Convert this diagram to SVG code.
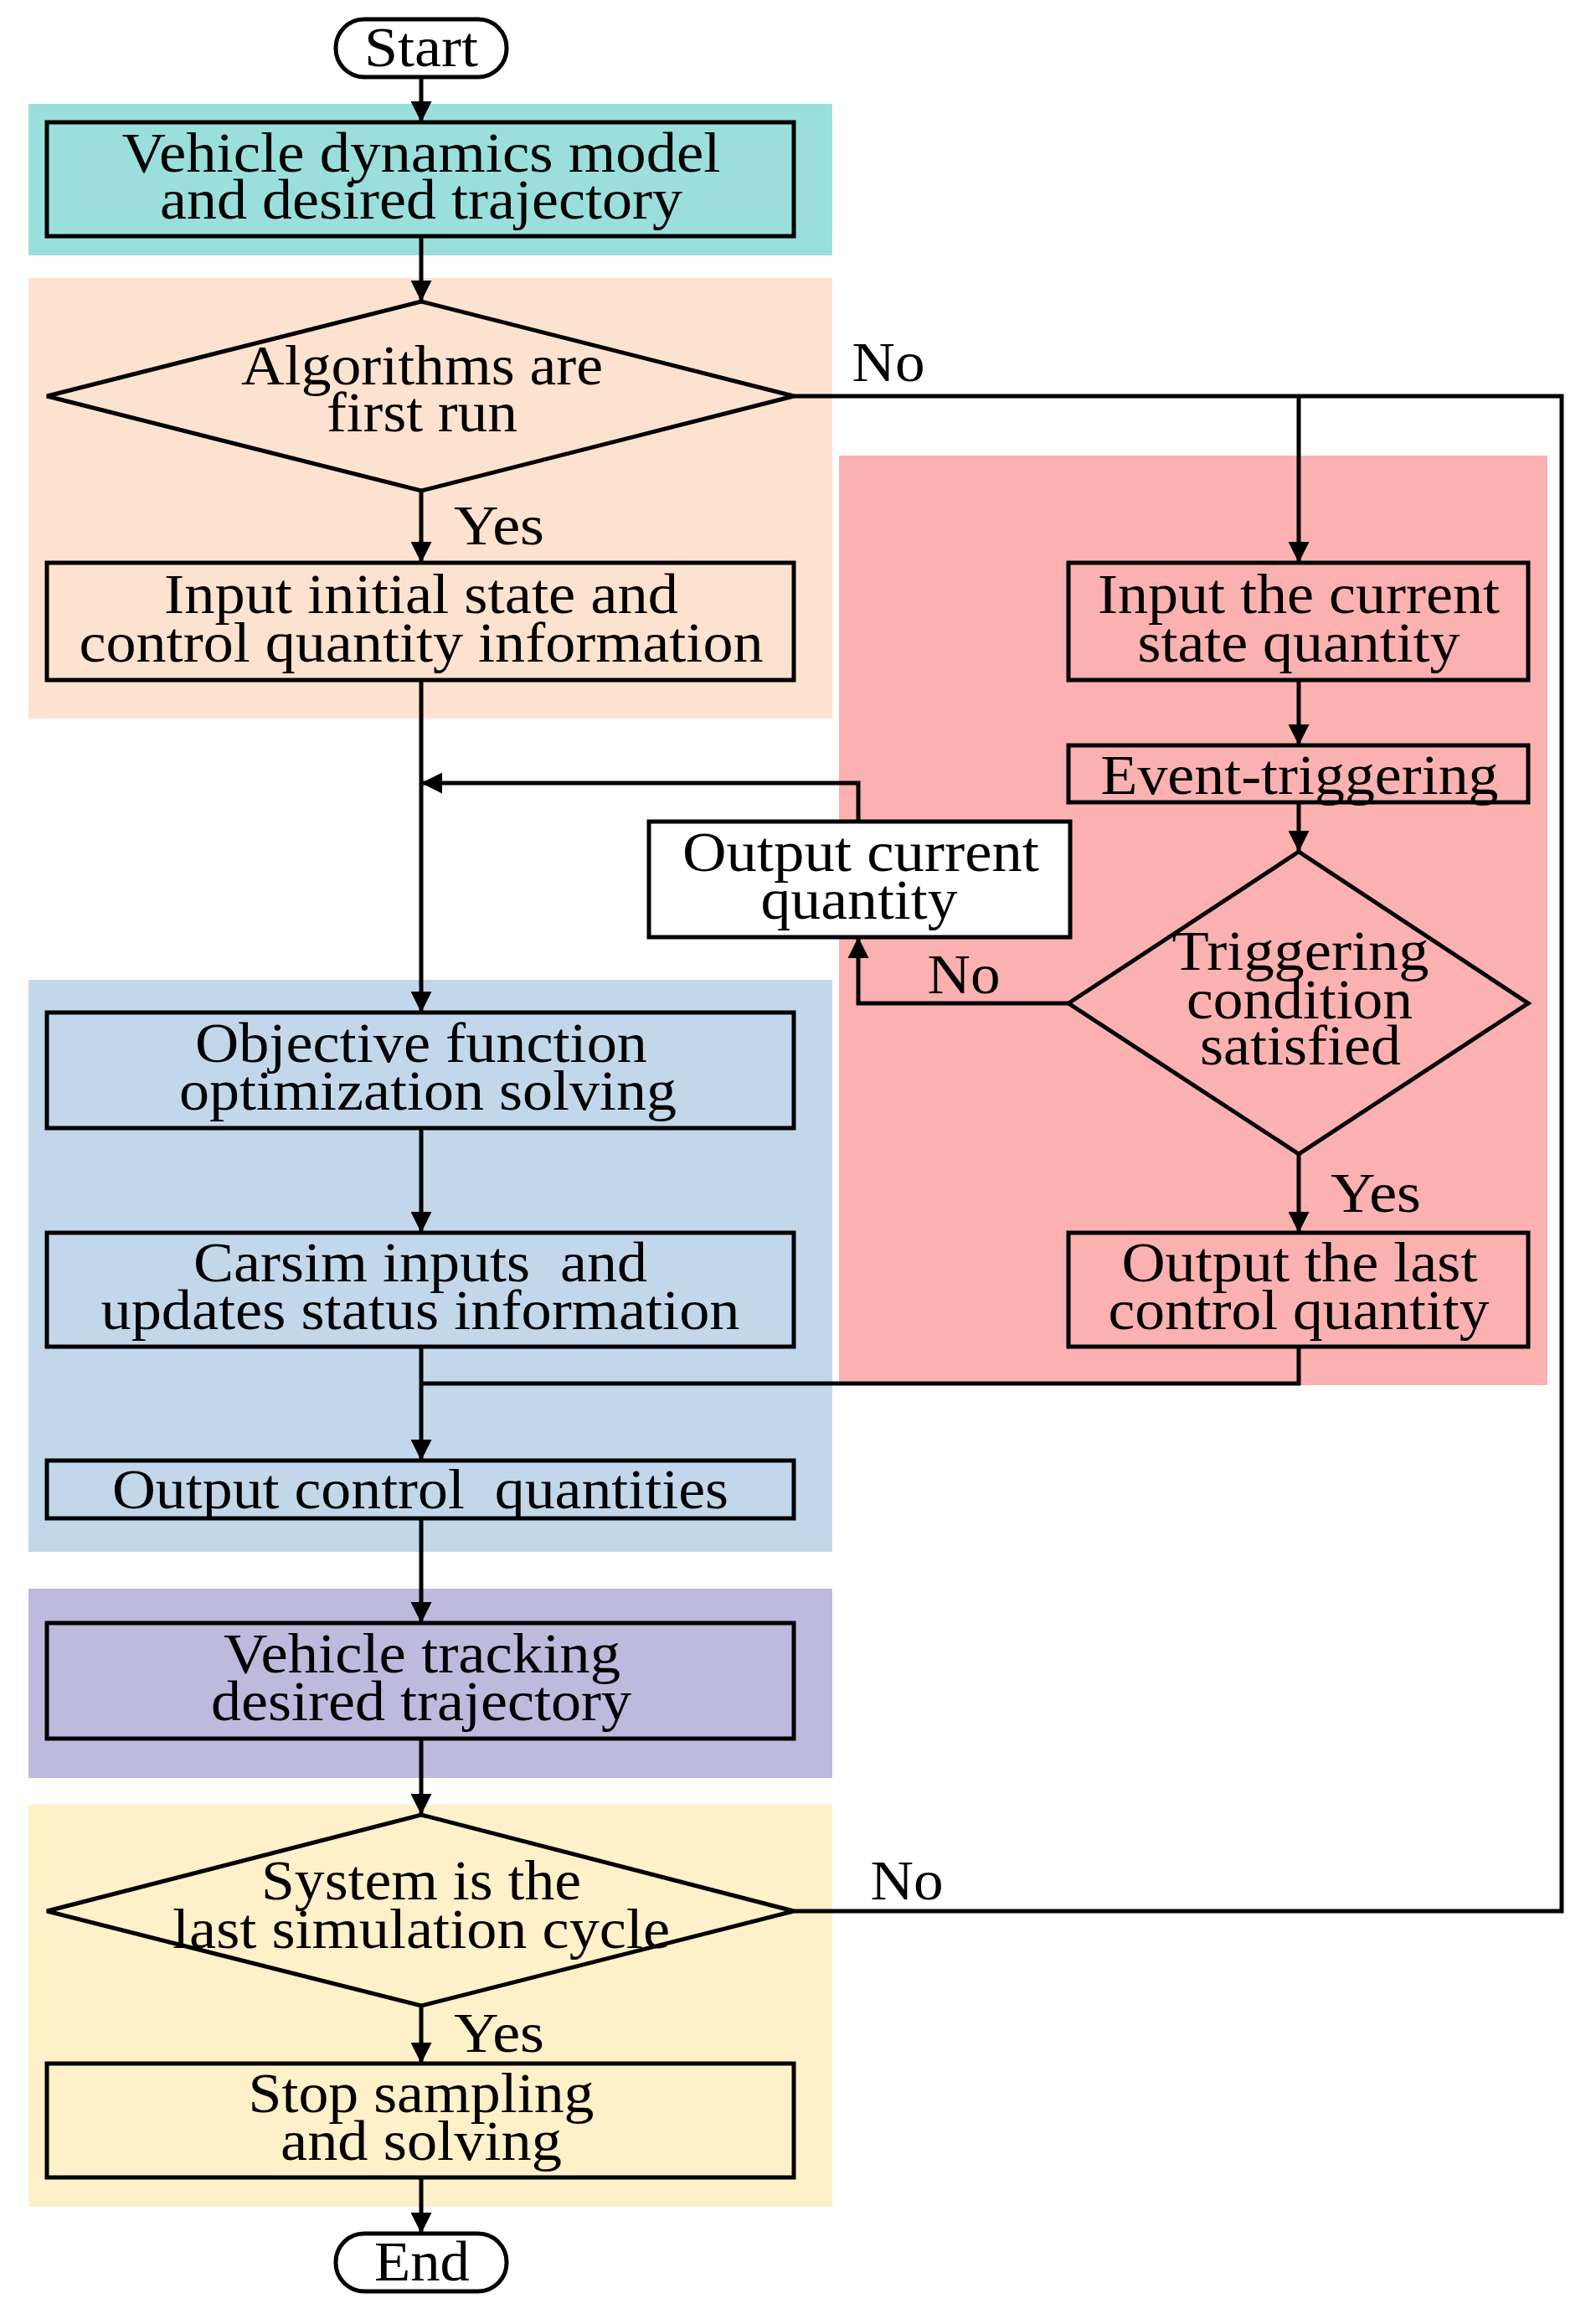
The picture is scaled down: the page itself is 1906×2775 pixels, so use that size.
<svg xmlns="http://www.w3.org/2000/svg" width="1906" height="2775" viewBox="0 0 1906 2775">
<style>
.n{stroke:#000;stroke-width:5;}
.t{font-family:"Liberation Serif","Times New Roman",serif;font-size:68px;fill:#000;text-anchor:middle;}
.c{fill:none;stroke:#000;stroke-width:5;}
</style>
<defs><marker id="a" viewBox="0 0 10 10" refX="10" refY="5" markerWidth="5" markerHeight="5" orient="auto" markerUnits="strokeWidth"><path d="M0,0L10,5L0,10z" fill="#000"/></marker></defs>
<rect width="1906" height="2775" fill="#fff"/>
<g id="bands">
<rect x="34" y="124" width="960" height="181" fill="#9ADFDB"/>
<rect x="34" y="332" width="960" height="526" fill="#FDE2CF"/>
<rect x="1002" y="544" width="846" height="1110" fill="#FAB1B0"/>
<rect x="34" y="1170" width="960" height="683" fill="#C3D7EA"/>
<rect x="34" y="1897" width="960" height="226" fill="#BDBADD"/>
<rect x="34" y="2155" width="960" height="480" fill="#FEF0C8"/>
</g>
<g id="connectors">
<path class="c" d="M503,92V146" marker-end="url(#a)"/>
<path class="c" d="M503,282V360" marker-end="url(#a)"/>
<path class="c" d="M503,586V672" marker-end="url(#a)"/>
<path class="c" d="M503,812V1209" marker-end="url(#a)"/>
<path class="c" d="M948,473H1865V2282H948"/>
<path class="c" d="M1551,473V672" marker-end="url(#a)"/>
<path class="c" d="M1551,812V890" marker-end="url(#a)"/>
<path class="c" d="M1551,958V1017" marker-end="url(#a)"/>
<path class="c" d="M1276,1198H1025V1119" marker-end="url(#a)"/>
<path class="c" d="M1025,981V935H503" marker-end="url(#a)"/>
<path class="c" d="M1551,1378V1472" marker-end="url(#a)"/>
<path class="c" d="M1551,1608V1652H503"/>
<path class="c" d="M503,1347V1472" marker-end="url(#a)"/>
<path class="c" d="M503,1608V1744" marker-end="url(#a)"/>
<path class="c" d="M503,1813V1938" marker-end="url(#a)"/>
<path class="c" d="M503,2076V2167" marker-end="url(#a)"/>
<path class="c" d="M503,2395V2464" marker-end="url(#a)"/>
<path class="c" d="M503,2600V2667" marker-end="url(#a)"/>
<text class="t" x="1061" y="455" textLength="87" lengthAdjust="spacingAndGlyphs">No</text>
<text class="t" x="596" y="650" textLength="108" lengthAdjust="spacingAndGlyphs">Yes</text>
<text class="t" x="1151" y="1186" textLength="87" lengthAdjust="spacingAndGlyphs">No</text>
<text class="t" x="1643" y="1447" textLength="108" lengthAdjust="spacingAndGlyphs">Yes</text>
<text class="t" x="1083" y="2268" textLength="87" lengthAdjust="spacingAndGlyphs">No</text>
<text class="t" x="596" y="2450" textLength="108" lengthAdjust="spacingAndGlyphs">Yes</text>
</g>
<g id="start"><rect class="n" x="401" y="23" width="204" height="69" rx="34" fill="#fff"/><text class="t" x="503" y="79" textLength="136" lengthAdjust="spacingAndGlyphs">Start</text></g>
<g id="model"><rect class="n" x="56" y="146" width="892" height="136" fill="#9ADFDB"/><text class="t" x="503" y="205" textLength="715" lengthAdjust="spacingAndGlyphs">Vehicle dynamics model</text><text class="t" x="503" y="261" textLength="624" lengthAdjust="spacingAndGlyphs">and desired trajectory</text></g>
<g id="first"><path class="n" d="M56,473L503,360L948,473L503,586z" fill="#FDE2CF"/><text class="t" x="504" y="459" textLength="432" lengthAdjust="spacingAndGlyphs">Algorithms are</text><text class="t" x="504" y="515" textLength="228" lengthAdjust="spacingAndGlyphs">first run</text></g>
<g id="init"><rect class="n" x="56" y="672" width="892" height="140" fill="#FDE2CF"/><text class="t" x="503" y="732" textLength="614" lengthAdjust="spacingAndGlyphs">Input initial state and</text><text class="t" x="503" y="790" textLength="817" lengthAdjust="spacingAndGlyphs">control quantity information</text></g>
<g id="curstate"><rect class="n" x="1276" y="672" width="549" height="140" fill="#FAB1B0"/><text class="t" x="1551" y="732" textLength="480" lengthAdjust="spacingAndGlyphs">Input the current</text><text class="t" x="1551" y="790" textLength="385" lengthAdjust="spacingAndGlyphs">state quantity</text></g>
<g id="event"><rect class="n" x="1276" y="890" width="549" height="68" fill="#FAB1B0"/><text class="t" x="1552" y="948" textLength="475" lengthAdjust="spacingAndGlyphs">Event-triggering</text></g>
<g id="outcur"><rect class="n" x="775" y="981" width="503" height="138" fill="#fff"/><text class="t" x="1028" y="1040" textLength="426" lengthAdjust="spacingAndGlyphs">Output current</text><text class="t" x="1026" y="1097" textLength="235" lengthAdjust="spacingAndGlyphs">quantity</text></g>
<g id="trig"><path class="n" d="M1276,1198L1551,1017L1825,1198L1551,1378z" fill="#FAB1B0"/><text class="t" x="1553" y="1158" textLength="307" lengthAdjust="spacingAndGlyphs">Triggering</text><text class="t" x="1552" y="1216" textLength="270" lengthAdjust="spacingAndGlyphs">condition</text><text class="t" x="1553" y="1271" textLength="240" lengthAdjust="spacingAndGlyphs">satisfied</text></g>
<g id="outlast"><rect class="n" x="1276" y="1472" width="549" height="136" fill="#FAB1B0"/><text class="t" x="1552" y="1530" textLength="425" lengthAdjust="spacingAndGlyphs">Output the last</text><text class="t" x="1551" y="1587" textLength="455" lengthAdjust="spacingAndGlyphs">control quantity</text></g>
<g id="obj"><rect class="n" x="56" y="1209" width="892" height="138" fill="#C3D7EA"/><text class="t" x="503" y="1268" textLength="540" lengthAdjust="spacingAndGlyphs">Objective function</text><text class="t" x="511" y="1325" textLength="594" lengthAdjust="spacingAndGlyphs">optimization solving</text></g>
<g id="carsim"><rect class="n" x="56" y="1472" width="892" height="136" fill="#C3D7EA"/><text class="t" x="502" y="1530" textLength="542" lengthAdjust="spacingAndGlyphs" xml:space="preserve">Carsim inputs  and</text><text class="t" x="502" y="1587" textLength="763" lengthAdjust="spacingAndGlyphs">updates status information</text></g>
<g id="outctrl"><rect class="n" x="56" y="1744" width="892" height="69" fill="#C3D7EA"/><text class="t" x="502" y="1801" textLength="736" lengthAdjust="spacingAndGlyphs" xml:space="preserve">Output control  quantities</text></g>
<g id="track"><rect class="n" x="56" y="1938" width="892" height="138" fill="#BDBADD"/><text class="t" x="504" y="1997" textLength="474" lengthAdjust="spacingAndGlyphs">Vehicle tracking</text><text class="t" x="503" y="2054" textLength="502" lengthAdjust="spacingAndGlyphs">desired trajectory</text></g>
<g id="last"><path class="n" d="M56,2282L503,2167L948,2282L503,2395z" fill="#FEF0C8"/><text class="t" x="503" y="2268" textLength="382" lengthAdjust="spacingAndGlyphs">System is the</text><text class="t" x="503" y="2326" textLength="594" lengthAdjust="spacingAndGlyphs">last simulation cycle</text></g>
<g id="stop"><rect class="n" x="56" y="2464" width="892" height="136" fill="#FEF0C8"/><text class="t" x="503" y="2522" textLength="413" lengthAdjust="spacingAndGlyphs">Stop sampling</text><text class="t" x="503" y="2579" textLength="336" lengthAdjust="spacingAndGlyphs">and solving</text></g>
<g id="end"><rect class="n" x="401" y="2667" width="204" height="69" rx="34" fill="#fff"/><text class="t" x="504" y="2723" textLength="114" lengthAdjust="spacingAndGlyphs">End</text></g>
</svg>
